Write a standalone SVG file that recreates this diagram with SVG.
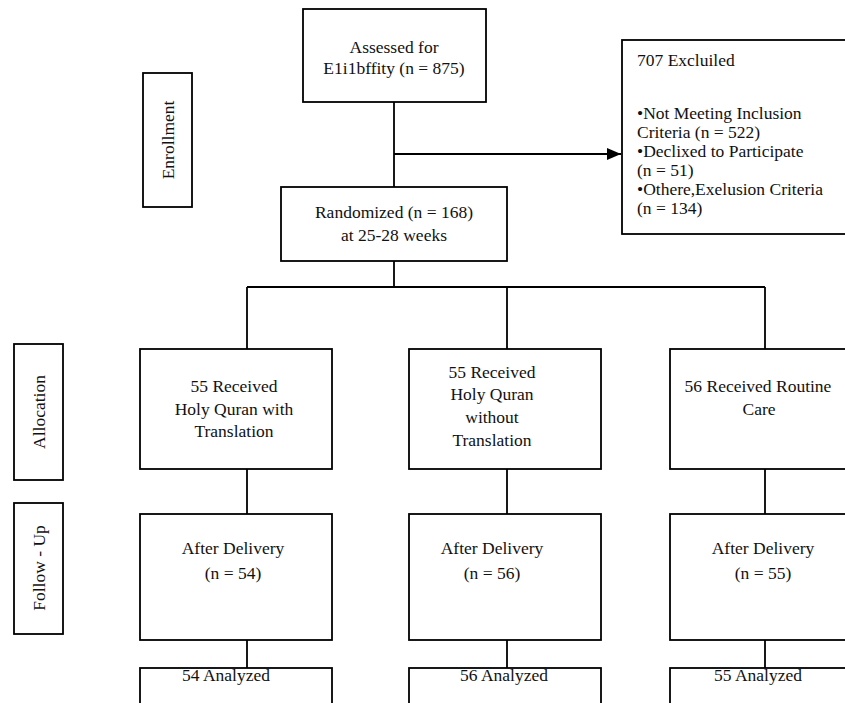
<svg xmlns="http://www.w3.org/2000/svg" width="845" height="703" viewBox="0 0 845 703">
<style>
.b{fill:#fff;stroke:#000;stroke-width:1.8}
.t{font-family:"Liberation Serif","DejaVu Serif",serif;font-size:17.5px;fill:#111}
.c{text-anchor:middle}
.l{fill:none;stroke:#000;stroke-width:1.8}
</style>
<defs>
<marker id="ah" markerWidth="14" markerHeight="12" refX="14" refY="6" orient="auto" markerUnits="userSpaceOnUse">
<path d="M0,0 L14,6 L0,12 z" fill="#000"/>
</marker>
</defs>
<rect width="845" height="703" fill="#fff"/>
<g id="connectors">
<path class="l" d="M394,102 V187"/>
<path class="l" d="M394,154 H621" marker-end="url(#ah)"/>
<path class="l" d="M394,261 V287"/>
<path class="l" d="M247,287 H765"/>
<path class="l" d="M247,287 V349 M507,287 V349 M765,287 V349"/>
<path class="l" d="M247,469 V514 M507,469 V514 M765,469 V514"/>
<path class="l" d="M247,640 V668 M507,640 V668 M765,640 V668"/>
</g>
<g id="enrollment">
<rect class="b" x="143" y="73" width="49" height="134"/>
<text class="t c" transform="translate(174,140) rotate(-90)">Enrollment</text>
</g>
<g id="allocation">
<rect class="b" x="14" y="344" width="49" height="136"/>
<text class="t c" transform="translate(45,412) rotate(-90)">Allocation</text>
</g>
<g id="followup">
<rect class="b" x="14" y="503" width="49" height="131"/>
<text class="t c" transform="translate(45,568) rotate(-90)">Follow - Up</text>
</g>
<g id="assessed">
<rect class="b" x="303" y="9" width="183" height="93"/>
<text class="t c" x="394" y="53">Assessed for</text>
<text class="t c" x="394" y="74">E1i1bffity (n = 875)</text>
</g>
<g id="excluded">
<rect class="b" x="622" y="40" width="230" height="194"/>
<text class="t" x="637" y="66">707 Excluiled</text>
<text class="t" x="637" y="119">•Not Meeting Inclusion</text>
<text class="t" x="637" y="138">Criteria (n = 522)</text>
<text class="t" x="637" y="157">•Declixed to Participate</text>
<text class="t" x="637" y="176">(n = 51)</text>
<text class="t" x="637" y="195">•Othere,Exelusion Criteria</text>
<text class="t" x="637" y="214">(n = 134)</text>
</g>
<g id="randomized">
<rect class="b" x="281" y="187" width="226" height="74"/>
<text class="t c" x="394" y="218">Randomized (n = 168)</text>
<text class="t c" x="394" y="241">at 25-28 weeks</text>
</g>
<g id="alloc1">
<rect class="b" x="140" y="349" width="192" height="120"/>
<text class="t c" x="234" y="392">55 Received</text>
<text class="t c" x="234" y="415">Holy Quran with</text>
<text class="t c" x="234" y="437">Translation</text>
</g>
<g id="alloc2">
<rect class="b" x="409" y="349" width="192" height="120"/>
<text class="t c" x="492" y="378">55 Received</text>
<text class="t c" x="492" y="400">Holy Quran</text>
<text class="t c" x="492" y="423">without</text>
<text class="t c" x="492" y="446">Translation</text>
</g>
<g id="alloc3">
<rect class="b" x="670" y="349" width="192" height="120"/>
<text class="t c" x="758" y="392">56 Received Routine</text>
<text class="t c" x="759" y="415">Care</text>
</g>
<g id="follow1">
<rect class="b" x="140" y="514" width="192" height="126"/>
<text class="t c" x="233" y="554">After Delivery</text>
<text class="t c" x="233" y="579">(n = 54)</text>
</g>
<g id="follow2">
<rect class="b" x="409" y="514" width="192" height="126"/>
<text class="t c" x="492" y="554">After Delivery</text>
<text class="t c" x="492" y="579">(n = 56)</text>
</g>
<g id="follow3">
<rect class="b" x="670" y="514" width="192" height="126"/>
<text class="t c" x="763" y="554">After Delivery</text>
<text class="t c" x="763" y="579">(n = 55)</text>
</g>
<g id="analyzed1">
<rect class="b" x="140" y="668" width="192" height="50"/>
<text class="t c" x="226" y="681">54 Analyzed</text>
</g>
<g id="analyzed2">
<rect class="b" x="409" y="668" width="192" height="50"/>
<text class="t c" x="504" y="681">56 Analyzed</text>
</g>
<g id="analyzed3">
<rect class="b" x="670" y="668" width="192" height="50"/>
<text class="t c" x="758" y="681">55 Analyzed</text>
</g>
</svg>
